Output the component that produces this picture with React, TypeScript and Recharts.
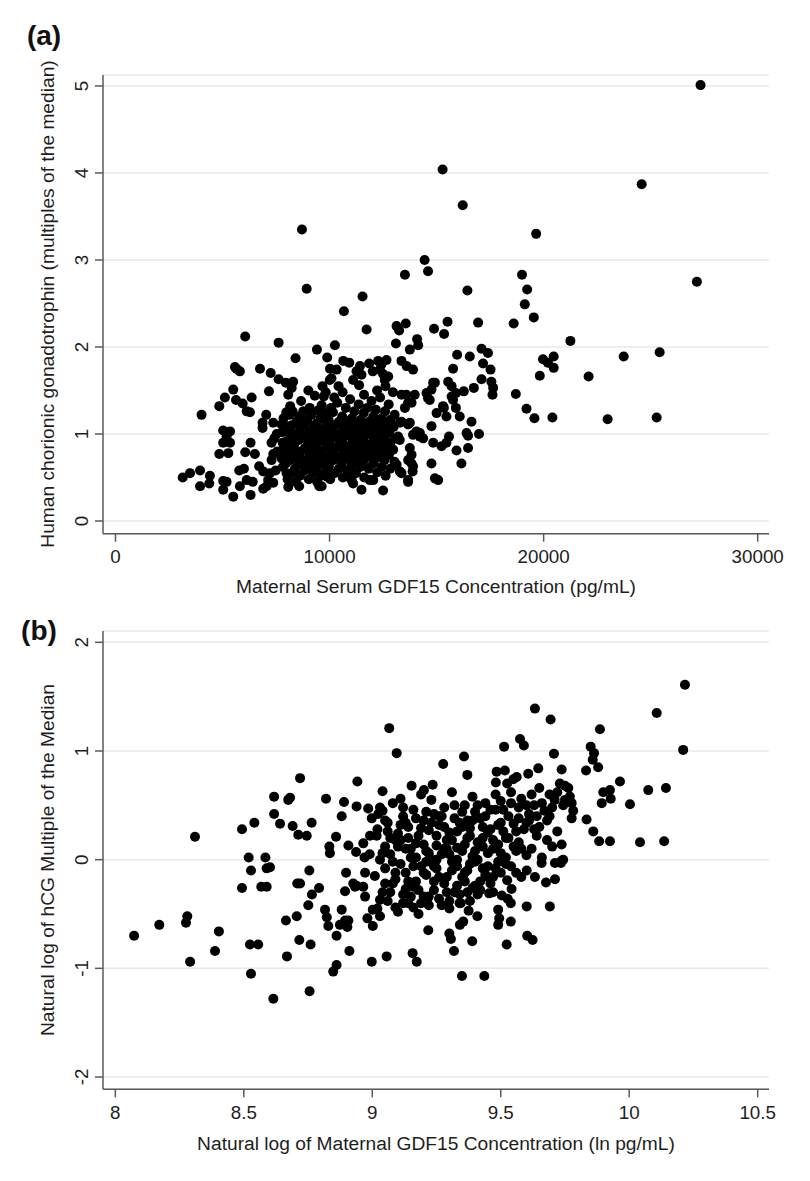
import React from 'react';
import { ScatterChart, Scatter, XAxis, YAxis, CartesianGrid } from 'recharts';

type Pt = [number, number];

// tick labels
const GDF15_TICKS = [0, 10000, 20000, 30000];
const HCG_MOM_TICKS = [0, 1, 2, 3, 4, 5];
const LN_GDF15_TICKS = [8, 8.5, 9, 9.5, 10, 10.5];
const LN_HCG_TICKS = [-2, -1, 0, 1, 2];

// (a) GDF15 pg/mL vs hCG MoM
const A_OUTLIERS: Pt[] = [
  [27330, 5.01], [15280, 4.04], [24580, 3.87], [16220, 3.63], [8710, 3.35], [19650, 3.3],
  [14440, 3.0], [14600, 2.87], [13520, 2.83], [18990, 2.83], [27160, 2.75], [8930, 2.67],
  [16440, 2.65], [19230, 2.66], [11540, 2.58], [19120, 2.49], [10670, 2.41], [19540, 2.34],
  [18600, 2.27], [16940, 2.28], [15510, 2.29], [14880, 2.21], [15350, 2.15], [11730, 2.2],
  [13130, 2.24], [13560, 2.27], [13250, 2.19], [21250, 2.07], [6060, 2.12], [7620, 2.05],
  [13100, 2.04], [14090, 2.09], [14140, 2.02], [13750, 1.97], [10250, 2.02], [9410, 1.97],
  [25420, 1.94], [23740, 1.89], [19970, 1.86], [20470, 1.89], [20200, 1.82], [20470, 1.76],
  [19820, 1.67], [22100, 1.66], [18700, 1.46], [19200, 1.29], [19570, 1.18], [20410, 1.19],
  [22990, 1.17], [25280, 1.19], [9890, 1.88], [8410, 1.87],
];

const A_LEFT: Pt[] = [
  [5580, 1.77], [5650, 1.75], [5810, 1.72], [6750, 1.75], [7250, 1.7], [7620, 1.63],
  [7960, 1.59], [8300, 1.6], [8230, 1.53], [8070, 1.45], [7170, 1.49], [5500, 1.51],
  [5110, 1.42], [4850, 1.32], [5630, 1.39], [5940, 1.35], [6130, 1.26], [6360, 1.42],
  [6280, 1.25], [4020, 1.22], [7040, 1.22], [8120, 1.22], [8270, 1.26], [9310, 1.44],
  [9670, 1.55], [9730, 1.43], [10010, 1.62], [6870, 1.13], [6870, 1.07], [5030, 1.04],
  [5350, 1.03], [5030, 0.9], [5350, 0.9], [5190, 0.97], [4850, 0.77], [5270, 0.78],
  [6310, 0.9], [6060, 0.79], [6510, 0.77], [7290, 0.9], [7810, 0.9], [7370, 1.13],
  [7760, 1.11], [7990, 1.09], [7370, 0.77], [7760, 0.76], [7290, 0.7], [3140, 0.5],
  [3480, 0.55], [3950, 0.58], [3950, 0.4], [4410, 0.52], [4380, 0.43], [5030, 0.46],
  [5190, 0.45], [5030, 0.36], [5500, 0.28], [5780, 0.58], [6000, 0.6], [5810, 0.4],
  [6130, 0.47], [6410, 0.45], [6310, 0.3], [6710, 0.63], [6900, 0.57], [7210, 0.55],
  [7130, 0.47], [7370, 0.44], [6900, 0.37], [7060, 0.4], [8070, 0.39], [8580, 0.4],
  [7990, 0.55], [9520, 0.4], [9890, 0.51],
];

const A_RIGHT: Pt[] = [
  [10640, 1.84], [10920, 1.82], [10330, 1.74], [10090, 1.64], [11850, 1.81], [12270, 1.84],
  [12660, 1.85], [12350, 1.74], [12500, 1.69], [12740, 1.66], [12580, 1.62], [11260, 1.72],
  [11490, 1.68], [11380, 1.56], [11100, 1.62], [13360, 1.84], [13600, 1.78], [13900, 1.74],
  [15960, 1.91], [16550, 1.89], [15770, 1.75], [17100, 1.98], [17400, 1.93], [17170, 1.81],
  [17520, 1.74], [17100, 1.63], [17560, 1.6], [17640, 1.53], [17610, 1.45], [16740, 1.53],
  [16270, 1.49], [15900, 1.47], [15700, 1.43], [15770, 1.39], [16080, 1.2], [16630, 1.14],
  [14920, 1.59], [14760, 1.51], [14600, 1.41], [15540, 1.6], [15700, 1.55], [15340, 1.3],
  [15000, 1.24], [15460, 1.2], [15900, 1.3], [16400, 1.01], [16980, 1.0], [16470, 0.98],
  [15930, 0.81], [16470, 0.84], [16160, 0.66], [14760, 1.09], [14840, 0.9], [15230, 0.86],
  [15580, 0.97], [15460, 0.9], [14760, 0.66], [14920, 0.49], [15070, 0.47], [13360, 1.45],
  [13670, 1.36], [13520, 1.3], [13980, 1.45], [13750, 1.13], [13280, 1.13], [13200, 0.97],
  [13280, 0.93], [13750, 0.84], [13830, 0.76], [13670, 0.7], [13900, 0.63], [13670, 0.47],
  [13130, 0.65], [13280, 0.57], [14060, 1.03], [14220, 0.97], [12040, 0.47], [12500, 0.35],
  [11880, 0.47], [11490, 0.36], [11030, 0.47], [10870, 0.51], [11100, 0.43], [10010, 0.52],
  [9630, 0.4], [14840, 1.59], [14530, 1.47], [14680, 1.39], [13590, 1.45], [13830, 1.36],
  [15300, 1.32], [14370, 0.95], [14220, 1.01], [13900, 0.99], [13360, 1.14], [13670, 1.11],
  [13830, 0.66], [13880, 0.57], [13360, 0.55], [13670, 0.45],
];

const A_CORE: Pt[] = [
  [7480, 0.58], [7560, 0.8], [7420, 0.95], [7530, 1.0],
  [7820, 0.62], [7760, 0.72], [7880, 0.85], [7790, 1.02], [7850, 1.18],
  [8040, 0.48], [7960, 0.66], [8090, 0.78], [8010, 0.92], [8120, 1.05], [7980, 1.25],
  [8230, 0.55], [8170, 0.7], [8260, 0.83], [8190, 0.97], [8240, 1.1], [8160, 1.32],
  [8430, 0.45], [8380, 0.6], [8460, 0.74], [8350, 0.88], [8410, 1.0], [8470, 1.15],
  [8620, 0.52], [8580, 0.66], [8650, 0.8], [8560, 0.93], [8640, 1.07], [8590, 1.2], [8670, 1.38],
  [8820, 0.58], [8760, 0.7], [8850, 0.84], [8790, 0.98], [8830, 1.12], [8770, 1.26],
  [9030, 0.48], [8970, 0.62], [9060, 0.76], [8990, 0.9], [9040, 1.03], [8960, 1.16], [9070, 1.3], [9010, 1.5],
  [9230, 0.55], [9170, 0.68], [9250, 0.82], [9190, 0.95], [9240, 1.08], [9160, 1.22],
  [9420, 0.45], [9380, 0.6], [9450, 0.73], [9370, 0.86], [9430, 1.0], [9390, 1.12], [9460, 1.27],
  [9620, 0.52], [9570, 0.66], [9640, 0.8], [9580, 0.92], [9650, 1.05], [9590, 1.18], [9630, 1.33],
  [9830, 0.58], [9770, 0.72], [9850, 0.86], [9790, 0.98], [9840, 1.1], [9760, 1.24], [9820, 1.48],
  [10030, 0.48], [9970, 0.63], [10060, 0.77], [9990, 0.9], [10040, 1.03], [9960, 1.16], [10070, 1.3], [10020, 1.75],
  [10230, 0.55], [10170, 0.7], [10250, 0.84], [10190, 0.96], [10240, 1.1], [10160, 1.25], [10220, 1.42],
  [10430, 0.6], [10370, 0.74], [10450, 0.88], [10390, 1.0], [10440, 1.14], [10360, 1.36], [10420, 1.55],
  [10620, 0.5], [10570, 0.66], [10650, 0.8], [10580, 0.93], [10640, 1.06], [10590, 1.2], [10610, 1.48],
  [10830, 0.58], [10770, 0.72], [10850, 0.86], [10790, 0.98], [10840, 1.12], [10760, 1.3],
  [11030, 0.64], [10970, 0.78], [11060, 0.9], [10990, 1.04], [11040, 1.18], [10960, 1.4],
  [11230, 0.55], [11170, 0.7], [11250, 0.84], [11190, 0.96], [11240, 1.1], [11160, 1.26],
  [11430, 0.62], [11370, 0.76], [11450, 0.9], [11390, 1.02], [11440, 1.16], [11360, 1.34], [11420, 1.78],
  [11620, 0.5], [11570, 0.68], [11650, 0.82], [11580, 0.95], [11640, 1.08], [11590, 1.24], [11610, 1.45],
  [11830, 0.6], [11770, 0.74], [11850, 0.88], [11790, 1.0], [11840, 1.14], [11760, 1.3],
  [12030, 0.66], [11970, 0.8], [12060, 0.93], [11990, 1.06], [12040, 1.2], [11960, 1.38], [12020, 1.72],
  [12230, 0.56], [12170, 0.72], [12250, 0.86], [12190, 0.98], [12240, 1.12], [12160, 1.28], [12220, 1.5],
  [12430, 0.62], [12370, 0.78], [12450, 0.9], [12390, 1.04], [12440, 1.18], [12360, 1.42], [12420, 1.8],
  [12620, 0.52], [12570, 0.7], [12650, 0.84], [12580, 0.96], [12640, 1.1], [12590, 1.26], [12610, 1.55],
  [12830, 0.6], [12770, 0.76], [12850, 0.9], [12790, 1.02], [12840, 1.16], [12760, 1.34],
  [13030, 0.68], [12970, 0.82], [13060, 0.95], [12990, 1.08], [13040, 1.22], [12960, 1.48],
];

// (b) ln GDF15 vs ln hCG MoM
const B_LEFT: Pt[] = [
  [8.31, 0.21], [8.073, -0.7], [8.171, -0.6], [8.28, -0.52], [8.275, -0.58], [8.291, -0.94],
  [8.403, -0.66], [8.388, -0.84], [8.493, 0.28], [8.541, 0.34], [8.519, 0.02], [8.584, 0.02],
  [8.528, -0.1], [8.589, -0.08], [8.602, -0.07], [8.493, -0.26], [8.568, -0.25], [8.589, -0.25],
  [8.524, -0.78], [8.556, -0.78], [8.528, -1.05], [8.618, 0.58], [8.673, 0.55], [8.68, 0.57],
  [8.719, 0.75], [8.618, 0.42], [8.641, 0.33], [8.69, 0.31], [8.712, 0.23], [8.745, 0.22],
  [8.764, 0.34], [8.755, -0.1], [8.708, -0.22], [8.719, -0.22], [8.793, -0.26], [8.765, -0.32],
  [8.751, -0.42], [8.664, -0.56], [8.706, -0.52], [8.716, -0.74], [8.76, -0.78], [8.668, -0.89],
  [8.615, -1.28], [8.756, -1.21], [8.82, 0.56], [8.89, 0.53], [8.939, 0.49], [8.881, 0.4],
  [8.942, 0.72], [8.859, 0.21], [8.833, 0.12], [8.835, 0.06], [8.907, 0.13], [8.937, 0.07],
  [8.965, 0.15], [8.898, -0.12], [8.972, -0.12], [8.894, -0.29], [8.926, -0.22], [8.933, -0.25],
  [8.965, -0.25], [8.972, -0.34], [8.939, -0.24], [8.816, -0.46], [8.823, -0.53], [8.829, -0.61],
  [8.861, -0.7], [8.881, -0.46], [8.894, -0.56], [8.903, -0.62], [8.874, -0.6], [8.907, -0.56],
  [8.911, -0.84], [8.848, -1.03], [8.861, -0.97], [8.981, -0.54], [9.002, -0.61], [9.002, -0.46],
  [8.998, -0.94], [8.984, 0.47], [8.998, 0.38], [8.991, 0.22], [8.97, 0.02], [8.99, 0.05],
];

const B_UPPER: Pt[] = [
  [9.066, 1.21], [9.095, 0.98], [9.04, 0.63], [9.03, 0.48], [9.023, 0.42], [9.017, 0.22],
  [9.633, 1.39], [9.694, 1.29], [9.575, 1.11], [9.59, 1.05], [9.513, 1.04], [9.707, 0.975],
  [9.357, 0.95], [9.37, 0.78], [9.276, 0.88], [9.737, 0.83], [9.646, 0.84], [9.607, 0.79],
  [9.484, 0.81], [9.516, 0.82], [9.481, 0.71], [9.525, 0.7], [9.549, 0.74], [9.562, 0.76],
  [9.153, 0.68], [9.201, 0.64], [9.235, 0.69],
  [10.217, 1.61], [10.107, 1.35], [9.886, 1.2], [10.21, 1.01], [9.85, 1.04], [9.863, 0.98],
  [9.858, 0.92], [9.879, 0.85], [9.832, 0.82], [9.964, 0.72], [9.899, 0.62], [9.925, 0.64],
  [9.928, 0.56], [9.893, 0.52], [10.003, 0.51], [10.074, 0.64], [10.143, 0.66], [9.75, 0.68],
  [9.763, 0.66], [9.769, 0.58], [9.75, 0.55], [9.776, 0.52], [9.782, 0.45], [9.776, 0.38],
  [9.743, 0.5], [9.834, 0.37], [9.86, 0.26], [9.883, 0.17], [9.925, 0.17], [10.042, 0.16],
  [10.136, 0.17], [9.737, 0.14], [9.743, 0.0], [9.734, -0.03],
];

const B_LOWER: Pt[] = [
  [9.218, -0.65], [9.3, -0.68], [9.306, -0.73], [9.318, -0.84], [9.389, -0.75], [9.157, -0.86],
  [9.173, -0.94], [9.056, -0.89], [9.349, -1.07], [9.436, -1.07], [9.523, -0.78], [9.603, -0.7],
  [9.624, -0.74], [9.691, -0.43], [9.601, -0.43], [9.539, -0.57], [9.539, -0.4], [9.49, -0.46],
  [9.494, -0.54], [9.49, -0.6], [9.409, -0.52], [9.375, -0.47], [9.344, -0.4], [9.341, -0.6],
  [9.354, -0.57], [9.455, -0.31], [9.504, -0.33], [9.525, -0.19], [9.542, -0.27], [9.527, -0.36],
  [9.601, -0.1], [9.633, -0.16], [9.659, -0.03], [9.676, -0.21], [9.711, -0.18], [9.711, -0.03],
  [9.737, -0.01],
];

const B_CORE: Pt[] = [
  [9.02, -0.45], [9.04, -0.3], [9.01, -0.15], [9.03, 0.0], [9.05, 0.12], [9.02, 0.28], [9.04, 0.45],
  [9.06, -0.38], [9.08, -0.22], [9.05, -0.08], [9.07, 0.05], [9.09, 0.18], [9.06, 0.34], [9.08, 0.52],
  [9.1, -0.48], [9.12, -0.32], [9.09, -0.18], [9.11, -0.04], [9.13, 0.1], [9.1, 0.24], [9.12, 0.4], [9.11, 0.56],
  [9.14, -0.4], [9.16, -0.25], [9.13, -0.12], [9.15, 0.02], [9.17, 0.15], [9.14, 0.3], [9.16, 0.46],
  [9.18, -0.5], [9.2, -0.34], [9.17, -0.2], [9.19, -0.06], [9.21, 0.08], [9.18, 0.22], [9.2, 0.36], [9.19, 0.6],
  [9.22, -0.42], [9.24, -0.28], [9.21, -0.14], [9.23, 0.0], [9.25, 0.13], [9.22, 0.27], [9.24, 0.42], [9.23, 0.55],
  [9.26, -0.36], [9.28, -0.22], [9.25, -0.08], [9.27, 0.05], [9.29, 0.18], [9.26, 0.32], [9.28, 0.48],
  [9.3, -0.45], [9.32, -0.3], [9.29, -0.16], [9.31, -0.02], [9.33, 0.11], [9.3, 0.25], [9.32, 0.38], [9.31, 0.62],
  [9.34, -0.32], [9.36, -0.2], [9.33, -0.06], [9.35, 0.08], [9.37, 0.2], [9.34, 0.34], [9.36, 0.5],
  [9.38, -0.38], [9.4, -0.24], [9.37, -0.1], [9.39, 0.03], [9.41, 0.16], [9.38, 0.29], [9.4, 0.44], [9.39, 0.58],
  [9.42, -0.28], [9.44, -0.14], [9.41, 0.0], [9.43, 0.12], [9.45, 0.25], [9.42, 0.38], [9.44, 0.52],
  [9.46, -0.22], [9.48, -0.08], [9.45, 0.06], [9.47, 0.18], [9.49, 0.32], [9.46, 0.46], [9.48, 0.6],
  [9.5, -0.12], [9.52, 0.02], [9.49, 0.14], [9.51, 0.26], [9.53, 0.4], [9.5, 0.54],
  [9.54, -0.06], [9.56, 0.08], [9.53, 0.2], [9.55, 0.33], [9.57, 0.48], [9.54, 0.62],
  [9.58, -0.16], [9.6, 0.04], [9.57, 0.16], [9.59, 0.28], [9.61, 0.42], [9.58, 0.56],
  [9.62, 0.1], [9.64, 0.22], [9.61, 0.36], [9.63, 0.5], [9.65, 0.66],
  [9.66, 0.02], [9.68, 0.18], [9.65, 0.3], [9.67, 0.45], [9.69, 0.6],
  [9.7, 0.12], [9.72, 0.26], [9.69, 0.4], [9.71, 0.55], [9.73, 0.7],
  [9.03, -0.37], [9.05, -0.22], [9.04, 0.06], [9.07, 0.2], [9.09, -0.12], [9.11, 0.32],
  [9.13, -0.27], [9.15, 0.1], [9.16, -0.44], [9.19, 0.29], [9.21, -0.02], [9.24, -0.2],
  [9.26, 0.4], [9.28, 0.1], [9.3, -0.38], [9.31, 0.18], [9.33, -0.24], [9.35, 0.44],
  [9.36, -0.12], [9.38, 0.22], [9.4, -0.02], [9.41, -0.32], [9.43, 0.3], [9.45, -0.16],
  [9.47, 0.1], [9.49, -0.02], [9.51, 0.46], [9.55, 0.12], [9.57, 0.38], [9.63, 0.28],
  [9.03, -0.52], [9.05, 0.36], [9.07, -0.3], [9.08, -0.02], [9.1, 0.12], [9.12, -0.4],
  [9.12, 0.48], [9.14, -0.2], [9.14, 0.2], [9.16, -0.06], [9.17, 0.38], [9.18, -0.28],
  [9.2, 0.14], [9.2, -0.12], [9.22, 0.06], [9.22, -0.34], [9.23, 0.34], [9.24, -0.06],
  [9.25, 0.22], [9.26, -0.16], [9.27, -0.42], [9.28, 0.3], [9.29, -0.3], [9.3, 0.05],
  [9.31, -0.1], [9.32, 0.5], [9.33, 0.26], [9.34, -0.4], [9.35, -0.16], [9.36, 0.14],
  [9.37, 0.36], [9.38, -0.04], [9.39, -0.26], [9.4, 0.08], [9.41, 0.5], [9.42, -0.2],
  [9.43, 0.2], [9.44, 0.4], [9.45, -0.06], [9.46, 0.28], [9.47, -0.3], [9.48, 0.46],
  [9.5, 0.06], [9.5, 0.34], [9.52, -0.04], [9.52, 0.2], [9.54, 0.52], [9.56, 0.26],
  [9.56, -0.12], [9.58, 0.1], [9.6, 0.34], [9.6, 0.5], [9.62, 0.6], [9.64, 0.4],
  [9.66, 0.52], [9.68, 0.36], [9.7, 0.48], [9.72, 0.62], [9.06, 0.26], [9.09, -0.44],
  [9.11, 0.18], [9.13, 0.34], [9.15, -0.34], [9.17, 0.02], [9.19, -0.4], [9.21, 0.44],
  [9.25, 0.0], [9.27, 0.4], [9.29, 0.1], [9.33, 0.0], [9.35, 0.3], [9.37, -0.3],
  [9.39, 0.36], [9.43, -0.08], [9.47, -0.16],
];

const toRows = (pts: Pt[]) => pts.map(([x, y]) => ({ x, y }));
const panelA = toRows([...A_OUTLIERS, ...A_LEFT, ...A_RIGHT, ...A_CORE]);
const panelB = toRows([...B_LEFT, ...B_UPPER, ...B_LOWER, ...B_CORE]);

const FONT = '"Liberation Sans", Arial, sans-serif';
const TEXT = '#1e1e1e';
const AXIS = '#5a5a5a';
const GRID = '#e6eaea';

const Dot = (p: any) => <circle cx={p.cx} cy={p.cy} r={5} fill="#000" />;

const YTick = ({ x, y, payload }: any) => (
  <text x={0} y={0} transform={`translate(${x - 12},${y}) rotate(-90)`} textAnchor="middle" dy="0.36em"
    fill={TEXT} fontSize={18.8} fontFamily={FONT}>
    {payload.value}
  </text>
);

const XTick = ({ x, y, payload }: any) => (
  <text x={x} y={y + 13} textAnchor="middle" dy="0.36em" fill={TEXT} fontSize={18.8} fontFamily={FONT}>
    {payload.value}
  </text>
);

const Title = ({ cx, cy, text, rotate }: { cx: number; cy: number; text: string; rotate?: boolean }) => (
  <div style={{
    position: 'absolute', left: cx - 300, top: cy - 11, width: 600, height: 22, lineHeight: '22px',
    textAlign: 'center', fontSize: 19.2, color: TEXT, whiteSpace: 'nowrap',
    transform: rotate ? 'rotate(-90deg)' : undefined,
  }}>{text}</div>
);

const PanelTag = ({ cx, cy, text }: { cx: number; cy: number; text: string }) => (
  <div style={{
    position: 'absolute', left: cx - 30, top: cy - 16, width: 60, height: 32, lineHeight: '32px',
    textAlign: 'center', fontSize: 28, fontWeight: 'bold', color: '#111',
  }}>{text}</div>
);

const axisProps = {
  axisLine: { stroke: AXIS, strokeWidth: 1.5 },
  tickLine: { stroke: AXIS, strokeWidth: 1.5 },
  tickSize: 8,
  interval: 0 as const,
};

const App: React.FC = () => {
  return (
    <div style={{ position: 'absolute', left: 0, top: 0, width: 810, height: 1181, background: '#fff', fontFamily: FONT }}>
      <div style={{ position: 'absolute', left: 0, top: 0 }}>
        <ScatterChart width={810} height={600} margin={{ top: 75, right: 41, bottom: 6.3, left: 43 }}>
          <CartesianGrid horizontal vertical={false} stroke={GRID} strokeWidth={1.5} />
          <XAxis type="number" dataKey="x" domain={[-584, 30528]} ticks={GDF15_TICKS} height={60}
            tick={<XTick />} {...axisProps} />
          <YAxis type="number" dataKey="y" domain={[-0.146, 5.126]} ticks={HCG_MOM_TICKS} width={60}
            tick={<YTick />} {...axisProps} />
          <Scatter data={panelA} shape={Dot} isAnimationActive={false} />
        </ScatterChart>
      </div>
      <div style={{ position: 'absolute', left: 0, top: 600 }}>
        <ScatterChart width={810} height={581} margin={{ top: 31, right: 41, bottom: 31.7, left: 43 }}>
          <CartesianGrid horizontal vertical={false} stroke={GRID} strokeWidth={1.5} />
          <XAxis type="number" dataKey="x" domain={[7.952, 10.544]} ticks={LN_GDF15_TICKS} height={60}
            tick={<XTick />} {...axisProps} />
          <YAxis type="number" dataKey="y" domain={[-2.113, 2.104]} ticks={LN_HCG_TICKS} width={60}
            tick={<YTick />} {...axisProps} />
          <Scatter data={panelB} shape={Dot} isAnimationActive={false} />
        </ScatterChart>
      </div>
      <PanelTag cx={44} cy={36} text="(a)" />
      <PanelTag cx={39} cy={631} text="(b)" />
      <Title cx={48} cy={304} rotate text="Human chorionic gonadotrophin (multiples of the median)" />
      <Title cx={436} cy={586.5} text="Maternal Serum GDF15 Concentration (pg/mL)" />
      <Title cx={48} cy={860} rotate text="Natural log of hCG Multiple of the Median" />
      <Title cx={436} cy={1143.5} text="Natural log of Maternal GDF15 Concentration (ln pg/mL)" />
    </div>
  );
};

export default App;
